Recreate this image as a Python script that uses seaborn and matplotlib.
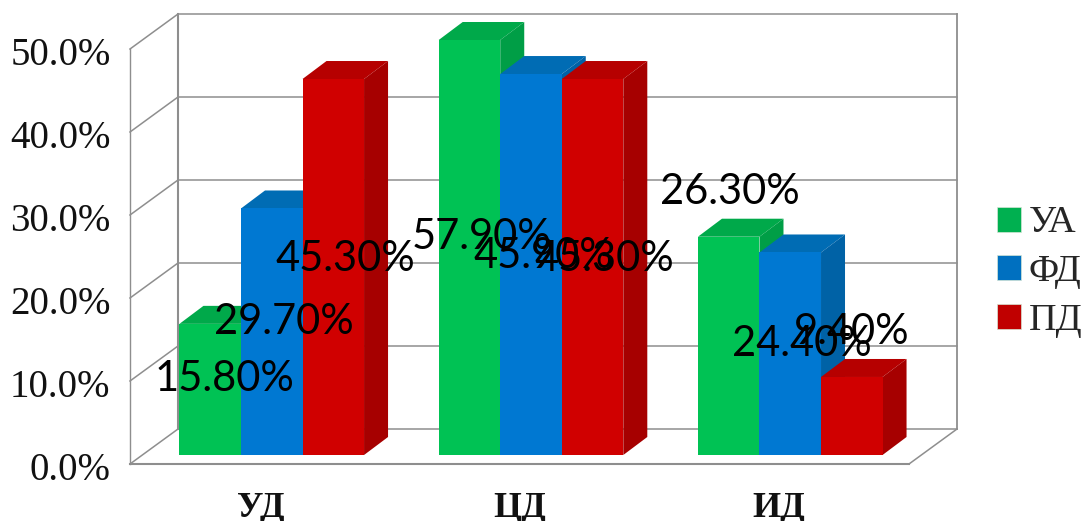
import matplotlib
matplotlib.use("Agg")
import matplotlib.pyplot as plt
from matplotlib.patches import Patch, Polygon
from matplotlib.transforms import ScaledTranslation
import pandas as pd
import seaborn as sns

# Chart values (percent)
categories = ["УД", "ЦД", "ИД"]
series_names = ["УА", "ФД", "ПД"]
ua_values = [15.8, 57.9, 26.3]
fd_values = [29.7, 45.9, 24.4]
pd_values = [45.3, 45.3, 9.4]
y_ticks = [0, 10, 20, 30, 40, 50]

# Colours per series: front, top and side faces of each column
front_colors = ["#00C254", "#0078D2", "#D00000"]
top_colors = ["#00A94A", "#006CB4", "#B60000"]
side_colors = ["#009E46", "#0062A6", "#A60000"]
legend_colors = ["#00B050", "#0070C0", "#C00000"]
wall_color = "#8E8E8E"

# Layout in pixels at 100 dpi
W, H = 1085, 521
PX_PER_CAT = 259.25
PX_PER_PCT = 8.3
CAT0_PX = 271.75
WALL_LEFT, WALL_RIGHT, AXIS_BOTTOM, AXIS_TOP = 130, 909, 464, 40
BAR_BASE_OFFSET = 9 / PX_PER_PCT
BAR_DX, BAR_DY = 24 / PX_PER_CAT, 18 / PX_PER_PCT
WALL_DX, WALL_DY = 48 / PX_PER_CAT, 35 / PX_PER_PCT

# Label offsets from each column's centre and base, in pixels (series by category)
label_dx = [[14, 12, 1], [12, 12, 12], [12, 12, 0]]
label_dy = [[76, 218, 263], [133, 199, 111], [196, 196, 123]]

sns.set_theme(style="white")
plt.rcParams["font.family"] = ["Liberation Serif", "DejaVu Sans"]

records = pd.DataFrame({
    "category": categories * 3,
    "series": [s for s in series_names for _ in categories],
    "value": ua_values + fd_values + pd_values,
})

fig = plt.figure(figsize=(W / 100, H / 100), dpi=100)
ax = fig.add_axes([WALL_LEFT / W, 1 - AXIS_BOTTOM / H,
                   (WALL_RIGHT - WALL_LEFT) / W, (AXIS_BOTTOM - AXIS_TOP) / H])
ax.patch.set_alpha(0)

sns.barplot(data=records, x="category", y="value", hue="series",
            order=categories, hue_order=series_names,
            palette=front_colors, saturation=1, width=0.712, gap=0,
            errorbar=None, legend=False, linewidth=0, ax=ax)

ymax = y_ticks[-1]
ax.set_xlim((WALL_LEFT - CAT0_PX) / PX_PER_CAT, (WALL_RIGHT - CAT0_PX) / PX_PER_CAT)
ax.set_ylim(-BAR_BASE_OFFSET, ymax)
x_front_l, x_front_r = ax.get_xlim()
floor = -BAR_BASE_OFFSET


def wall_line(xs, ys, lw=1.1):
    ax.plot(xs, ys, color=wall_color, lw=lw, clip_on=False, zorder=1,
            solid_capstyle="projecting")


# Box walls: floor outline, verticals and gridlines with their diagonals
wall_line([x_front_l, x_front_r], [floor, floor], lw=1.5)
wall_line([x_front_r, x_front_r + WALL_DX], [floor, floor + WALL_DY])
wall_line([x_front_l, x_front_l], [floor, floor + ymax], lw=1.0)
wall_line([x_front_l + WALL_DX] * 2, [floor + WALL_DY, floor + WALL_DY + ymax], lw=1.5)
wall_line([x_front_r + WALL_DX] * 2, [floor + WALL_DY, floor + WALL_DY + ymax], lw=1.3)
for tick in y_ticks:
    base = floor + tick
    wall_line([x_front_l, x_front_l + WALL_DX], [base, base + WALL_DY])
    wall_line([x_front_l + WALL_DX, x_front_r + WALL_DX],
              [base + WALL_DY, base + WALL_DY])

# Extrude every column: top and side faces come from the drawn bar geometry
for s, container in enumerate(ax.containers):
    for c, bar in enumerate(container.patches):
        x0, x1 = bar.get_x(), bar.get_x() + bar.get_width()
        top = min(bar.get_height(), ymax)
        bar.set_zorder(3 + 2 * s + 0.5)
        ax.add_patch(Polygon(
            [(x0, top), (x1, top), (x1 + BAR_DX, top + BAR_DY), (x0 + BAR_DX, top + BAR_DY)],
            closed=True, facecolor=top_colors[s], edgecolor="none",
            clip_on=False, zorder=3 + 2 * s))
        ax.add_patch(Polygon(
            [(x1, 0), (x1 + BAR_DX, BAR_DY), (x1 + BAR_DX, top + BAR_DY), (x1, top)],
            closed=True, facecolor=side_colors[s], edgecolor="none",
            clip_on=False, zorder=3 + 2 * s))
        ax.annotate(f"{bar.get_height():.2f}%",
                    xy=((x0 + x1) / 2, 0),
                    xytext=(label_dx[s][c] * 0.72, label_dy[s][c] * 0.72),
                    textcoords="offset points", ha="center", va="center",
                    fontsize=30, family="Lato", color="black",
                    annotation_clip=False, zorder=20)

# Axis ticks and labels sit on the front plane of the box
ax.set_xlabel("")
ax.set_ylabel("")
ax.set_yticks(y_ticks)
ax.set_yticklabels([f"{t:.1f}%" for t in y_ticks], fontsize=28, color="#111111")
ax.set_xticks(range(len(categories)))
ax.set_xticklabels(categories, fontsize=26, fontweight="bold", color="#111111")
ax.tick_params(axis="y", length=0, pad=14.0)
ax.tick_params(axis="x", length=0, pad=20.5)
y_shift = ScaledTranslation(0, -0.11, fig.dpi_scale_trans)
x_shift = ScaledTranslation(-0.11, 0, fig.dpi_scale_trans)
for lab in ax.get_yticklabels():
    lab.set_transform(lab.get_transform() + y_shift)
for lab in ax.get_xticklabels():
    lab.set_transform(lab.get_transform() + x_shift)
for spine in ax.spines.values():
    spine.set_visible(False)

handles = [Patch(facecolor=col, edgecolor="#D5E5D5", linewidth=0.5, label=name)
           for col, name in zip(legend_colors, series_names)]
fig.legend(handles=handles, loc="upper left", bbox_to_anchor=(997 / W, 1 - 206 / H),
           bbox_transform=fig.transFigure, frameon=False, fontsize=27.5,
           handlelength=0.63, handleheight=0.63, handletextpad=0.2,
           labelspacing=0.37, borderpad=0, borderaxespad=0)

fig.savefig("out.png", dpi=100)
